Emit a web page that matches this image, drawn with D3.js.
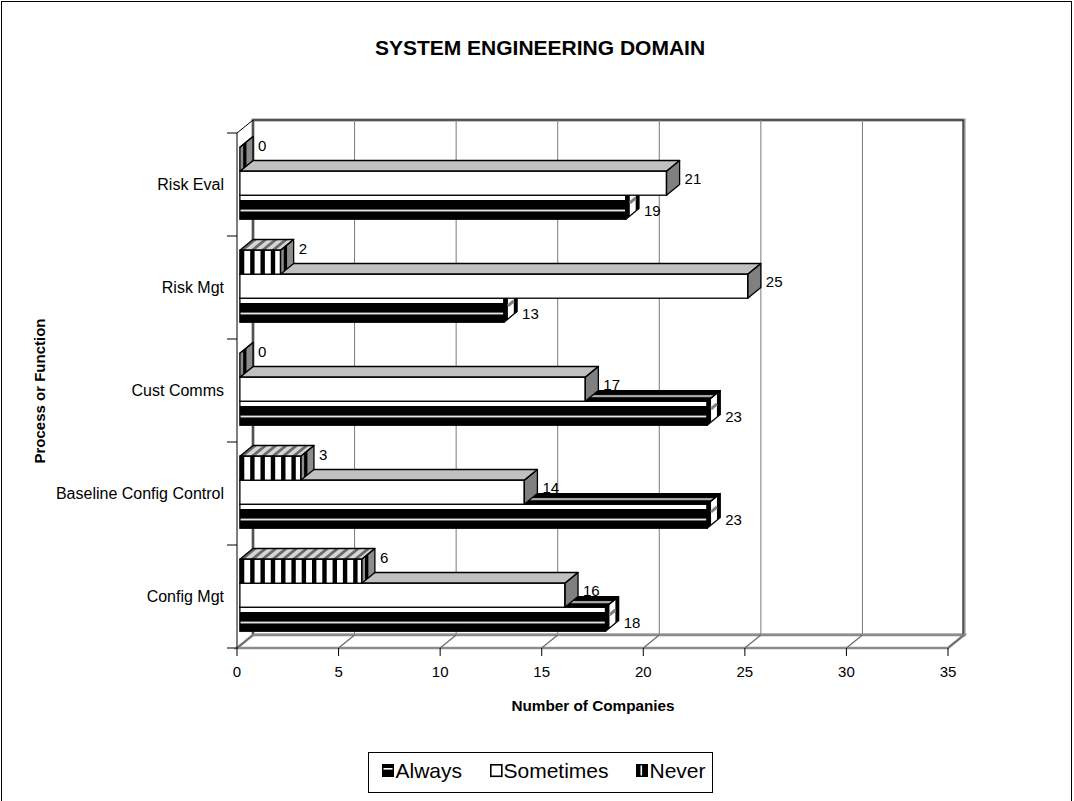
<!DOCTYPE html>
<html>
<head>
<meta charset="utf-8">
<script src="https://cdn.jsdelivr.net/npm/d3@7"></script>
<style>
  body { margin: 0; background: #fff; }
  svg { display: block; }
  text { font-family: "Liberation Sans", Arial, Helvetica, sans-serif; fill: #000; }
</style>
</head>
<body>
<svg id="chart" width="1074" height="801"></svg>
<script>
// ---- data ----
const categories = ["Risk Eval", "Risk Mgt", "Cust Comms", "Baseline Config Control", "Config Mgt"];
const seriesNames = ["Always", "Sometimes", "Never"];
const alwaysValues = [19, 13, 23, 23, 18];
const sometimesValues = [21, 25, 17, 14, 16];
const neverValues = [0, 2, 0, 3, 6];
const xTickValues = [0, 5, 10, 15, 20, 25, 30, 35];

const valuesBySeries = { Always: alwaysValues, Sometimes: sometimesValues, Never: neverValues };

// ---- layout ----
const svg = d3.select("#chart");
const DX = 16, DY = -13;              // depth of the 3D box
const FRONT = 0.18;                   // bars start a little behind the front plane
const fx = DX * FRONT, fy = DY * FRONT;
const bdx = DX * (1 - FRONT), bdy = DY * (1 - FRONT);

const x = d3.scaleLinear().domain([0, 35]).range([237, 948]);
const y = d3.scaleBand().domain(categories).range([133, 648]);
const inner = d3.scaleBand()
  .domain(["Never", "Sometimes", "Always"])
  .range([y.bandwidth() * 0.16, y.bandwidth() * 0.86]);

const plotTop = y.range()[0], plotBottom = y.range()[1];
const x0px = x(0), x1px = x(35);

// outer frame
svg.append("rect")
  .attr("x", 1.5).attr("y", 1.5).attr("width", 1070).attr("height", 830)
  .attr("fill", "none").attr("stroke", "#000").attr("stroke-width", 1);

// patterns
const defs = svg.append("defs");
const pf = defs.append("pattern").attr("id", "alwaysFront")
  .attr("patternUnits", "objectBoundingBox").attr("patternContentUnits", "objectBoundingBox")
  .attr("width", 1).attr("height", 1);
pf.append("rect").attr("width", 1).attr("height", 1).attr("fill", "#fff");
pf.append("rect").attr("y", 0.2).attr("width", 1).attr("height", 0.4).attr("fill", "#000");
pf.append("rect").attr("y", 0.67).attr("width", 1).attr("height", 0.33).attr("fill", "#000");

const pt = defs.append("pattern").attr("id", "alwaysTop")
  .attr("patternUnits", "objectBoundingBox").attr("patternContentUnits", "objectBoundingBox")
  .attr("width", 1).attr("height", 1);
pt.append("rect").attr("width", 1).attr("height", 1).attr("fill", "#000");
pt.append("rect").attr("y", 0.45).attr("width", 1).attr("height", 0.14).attr("fill", "#fff");

// back wall
svg.append("rect")
  .attr("x", x0px + DX).attr("y", plotTop + DY)
  .attr("width", x1px - x0px).attr("height", plotBottom - plotTop)
  .attr("fill", "#fff").attr("stroke", "#8c8c8c").attr("stroke-width", 3);
svg.append("rect")
  .attr("x", x0px + DX).attr("y", plotTop + DY)
  .attr("width", x1px - x0px - 1).attr("height", plotBottom - plotTop)
  .attr("fill", "none").attr("stroke", "#000").attr("stroke-width", 0.8);

// vertical gridlines on the back wall
svg.append("g").selectAll("line")
  .data(xTickValues.filter(v => v > 0 && v < 35))
  .join("line")
  .attr("x1", d => x(d) + DX).attr("x2", d => x(d) + DX)
  .attr("y1", plotTop + DY).attr("y2", plotBottom + DY)
  .attr("stroke", "#7a7a7a").attr("stroke-width", 1);

// floor
svg.append("path")
  .attr("d", `M${x0px},${plotBottom}L${x1px},${plotBottom}L${x1px + DX},${plotBottom + DY}L${x0px + DX},${plotBottom + DY}Z`)
  .attr("fill", "#fff").attr("stroke", "#8c8c8c").attr("stroke-width", 2.5);
svg.append("g").selectAll("line")
  .data(xTickValues)
  .join("line")
  .attr("x1", d => x(d)).attr("y1", plotBottom)
  .attr("x2", d => x(d) + DX).attr("y2", plotBottom + DY)
  .attr("stroke", "#6a6a6a").attr("stroke-width", 1.2);

// left wall
svg.append("path")
  .attr("d", `M${x0px},${plotBottom}L${x0px},${plotTop}L${x0px + DX},${plotTop + DY}`)
  .attr("fill", "none").attr("stroke", "#000").attr("stroke-width", 1);

// category ticks
svg.append("g").selectAll("line")
  .data(d3.range(categories.length + 1))
  .join("line")
  .attr("x1", x0px - 10).attr("x2", x0px)
  .attr("y1", i => plotTop + i * y.step()).attr("y2", i => plotTop + i * y.step())
  .attr("stroke", "#000");

// x ticks and labels
const xt = svg.append("g").selectAll("g").data(xTickValues).join("g");
xt.append("line")
  .attr("x1", d => x(d)).attr("x2", d => x(d))
  .attr("y1", plotBottom).attr("y2", plotBottom + 8)
  .attr("stroke", "#000");
xt.append("text")
  .attr("x", d => x(d)).attr("y", 677)
  .attr("text-anchor", "middle").attr("font-size", 15)
  .text(d => d);

// category labels
svg.append("g").selectAll("text")
  .data(categories)
  .join("text")
  .attr("x", 224).attr("y", d => y(d) + y.bandwidth() / 2)
  .attr("dy", "0.35em").attr("text-anchor", "end").attr("font-size", 16)
  .text(d => d);

// ---- bars (drawn bottom-up so upper bars cover tops of lower ones) ----
const rows = [];
categories.slice().reverse().forEach(cat => {
  const ci = categories.indexOf(cat);
  seriesNames.forEach(s => rows.push({ cat, series: s, value: valuesBySeries[s][ci] }));
});

const STRIPE = 10.3, STRIPE_W = 4.4;
const labelShift = { Never: -8, Sometimes: 1, Always: 9 };

const bars = svg.append("g").selectAll("g.bar").data(rows).join("g").attr("class", "bar");

bars.each(function (d) {
  const g = d3.select(this);
  const xa = x(0) + fx, xb = x(d.value) + fx;
  const y0 = y(d.cat) + inner(d.series) + fy, h = inner.bandwidth();
  const topPath = `M${xa},${y0}L${xb},${y0}L${xb + bdx},${y0 + bdy}L${xa + bdx},${y0 + bdy}Z`;
  const endPath = `M${xb},${y0}L${xb + bdx},${y0 + bdy}L${xb + bdx},${y0 + h + bdy}L${xb},${y0 + h}Z`;
  const strip = (a, b) =>
    `M${xb + bdx * a},${y0 + bdy * a}L${xb + bdx * b},${y0 + bdy * b}L${xb + bdx * b},${y0 + h + bdy * b}L${xb + bdx * a},${y0 + h + bdy * a}Z`;

  if (d.series === "Sometimes") {
    g.append("path").attr("d", topPath).attr("fill", "#c0c0c0");
    g.append("path").attr("d", endPath).attr("fill", "#808080");
    g.append("rect").attr("x", xa).attr("y", y0).attr("width", xb - xa).attr("height", h).attr("fill", "#fff");
  } else if (d.series === "Always") {
    g.append("path").attr("d", topPath).attr("fill", "url(#alwaysTop)");
    g.append("path").attr("d", endPath).attr("fill", "#000");
    g.append("path").attr("d", strip(0.3, 0.75)).attr("fill", "#fff");
    g.append("path").attr("d", `M${xb + bdx * 0.3},${y0 + h * 0.45 + bdy * 0.3}L${xb + bdx * 0.75},${y0 + h * 0.45 + bdy * 0.75}`)
      .attr("stroke", "#808080").attr("stroke-width", 3);
    g.append("rect").attr("x", xa).attr("y", y0).attr("width", xb - xa).attr("height", h).attr("fill", "url(#alwaysFront)");
  } else {
    g.append("path").attr("d", topPath).attr("fill", "#d6d6d6");
    g.append("path").attr("d", endPath).attr("fill", "#8c8c8c");
    g.append("path").attr("d", strip(0.25, 0.5)).attr("fill", "#000");
    g.append("rect").attr("x", xa).attr("y", y0).attr("width", xb - xa).attr("height", h).attr("fill", "#fff");
    const starts = d3.range(xa, xb, STRIPE);
    g.selectAll("path.st").data(starts).join("path").attr("class", "st")
      .attr("d", s => {
        const e = Math.min(s + STRIPE_W, xb);
        return `M${s},${y0}L${e},${y0}L${e + bdx},${y0 + bdy}L${s + bdx},${y0 + bdy}Z`;
      })
      .attr("fill", "#6a6a6a");
    g.selectAll("rect.st").data(starts).join("rect").attr("class", "st")
      .attr("x", s => s).attr("y", y0)
      .attr("width", s => Math.min(STRIPE_W, xb - s)).attr("height", h)
      .attr("fill", "#000");
  }
  // outlines
  g.append("path").attr("d", topPath).attr("fill", "none").attr("stroke", "#000").attr("stroke-width", 1.3).attr("stroke-linejoin", "round");
  g.append("path").attr("d", endPath).attr("fill", "none").attr("stroke", "#000").attr("stroke-width", 1.3).attr("stroke-linejoin", "round");
  g.append("rect").attr("x", xa).attr("y", y0).attr("width", xb - xa).attr("height", h)
    .attr("fill", "none").attr("stroke", "#000").attr("stroke-width", 1.3);

  // value label
  g.append("text")
    .attr("x", xb + bdx + 5)
    .attr("y", y0 + (h + bdy) / 2 + labelShift[d.series])
    .attr("dy", "0.35em").attr("font-size", 15)
    .text(d.value);
});

// ---- titles ----
svg.append("text")
  .attr("x", 540).attr("y", 55).attr("text-anchor", "middle")
  .attr("font-size", 21).attr("font-weight", "bold")
  .text("SYSTEM ENGINEERING DOMAIN");

svg.append("text")
  .attr("transform", "translate(45,391) rotate(-90)")
  .attr("text-anchor", "middle").attr("font-size", 15).attr("font-weight", "bold")
  .text("Process or Function");

svg.append("text")
  .attr("x", 593).attr("y", 711).attr("text-anchor", "middle")
  .attr("font-size", 15.3).attr("font-weight", "bold")
  .text("Number of Companies");

// ---- legend ----
const legend = svg.append("g");
legend.append("rect")
  .attr("x", 368.5).attr("y", 752.5).attr("width", 344).attr("height", 40)
  .attr("fill", "#fff").attr("stroke", "#000").attr("stroke-width", 1);
const legendX = [382, 490, 636];
const items = legend.selectAll("g.item").data(seriesNames).join("g").attr("class", "item")
  .attr("transform", (d, i) => `translate(${legendX[i]},764)`);
items.each(function (d) {
  const g = d3.select(this);
  if (d === "Always") {
    g.append("rect").attr("width", 12).attr("height", 13).attr("fill", "#000");
    g.append("rect").attr("x", 1.5).attr("y", 4).attr("width", 9).attr("height", 1.6).attr("fill", "#fff");
  } else if (d === "Sometimes") {
    g.append("rect").attr("x", 0.8).attr("y", 0.8).attr("width", 11).attr("height", 11.5)
      .attr("fill", "#fff").attr("stroke", "#000").attr("stroke-width", 1.6);
  } else {
    g.append("rect").attr("width", 12).attr("height", 13).attr("fill", "#000");
    g.append("rect").attr("x", 4.5).attr("y", 1.5).attr("width", 1.6).attr("height", 10).attr("fill", "#fff");
  }
  g.append("text").attr("x", 13.5).attr("y", 14).attr("font-size", 21).text(d);
});
</script>
</body>
</html>
